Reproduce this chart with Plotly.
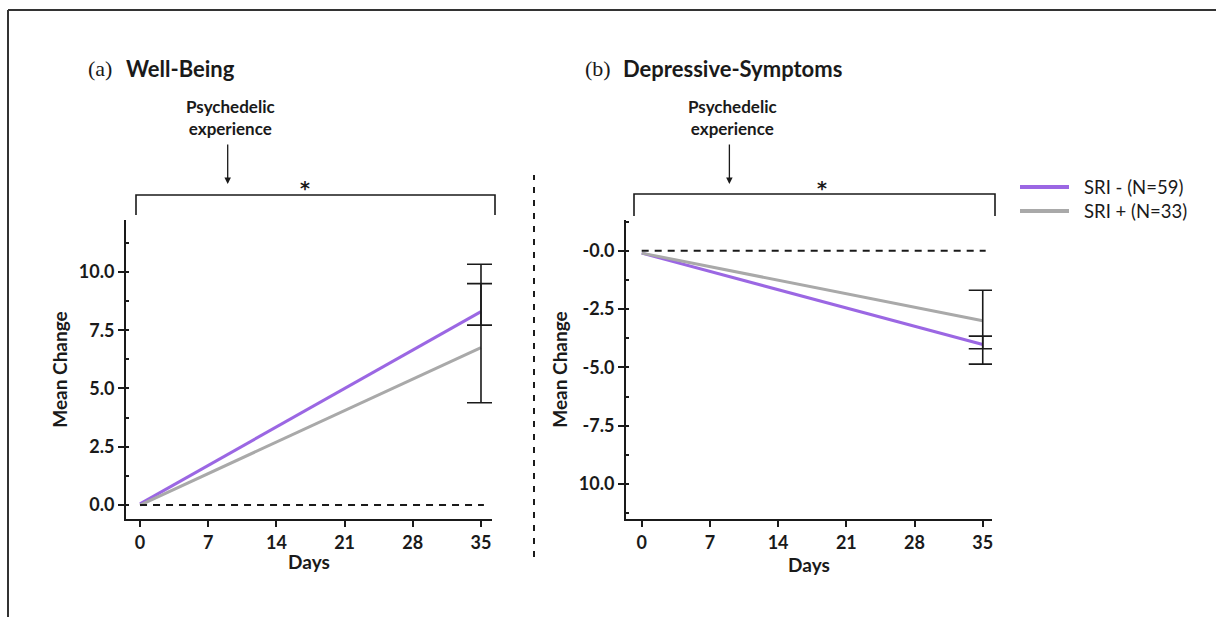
import plotly.graph_objects as go

W, H = 1216, 617

# ---------------- data ----------------
days = [0, 35]
legend_names = ["SRI - (N=59)", "SRI + (N=33)"]
colors = ["#9b67e3", "#a9a9a9"]

# (a) Well-Being
wb_means = {"neg": [0.05, 8.3], "pos": [0.0, 6.75]}
wb_err_plus = {"neg": 2.03, "pos": 2.75}
wb_err_minus = {"neg": 0.58, "pos": 2.36}

# (b) Depressive-Symptoms
ds_means = {"neg": [-0.1, -4.02], "pos": [-0.1, -3.0]}
ds_err_plus = {"neg": 0.36, "pos": 1.31}
ds_err_minus = {"neg": 0.84, "pos": 1.2}

x_ticks = [0, 7, 14, 21, 28, 35]
wb_yticks = [0, 2.5, 5, 7.5, 10]
wb_yticktext = ["0.0", "2.5", "5.0", "7.5", "10.0"]
ds_yticks = [0, -2.5, -5, -7.5, -10]
ds_yticktext = ["-0.0", "-2.5", "-5.0", "-7.5", "10.0"]

arrow_day = 9
ref_line_end = 35.3

FONT = "Lato"
INK = "#1a1a1a"


def px(p):
    return p / W


def py(p):
    return 1 - p / H


fig = go.Figure()

keys = ["neg", "pos"]
for i, k in enumerate(keys):
    fig.add_trace(go.Scatter(x=days, y=wb_means[k], mode="lines", name=legend_names[i],
                             line=dict(color=colors[i], width=3), xaxis="x", yaxis="y",
                             legendgroup=k, showlegend=False))
    fig.add_trace(go.Scatter(x=days, y=ds_means[k], mode="lines", name=legend_names[i],
                             line=dict(color=colors[i], width=3), xaxis="x2", yaxis="y2",
                             legendgroup=k, showlegend=False))

# error bars at day 35
for k in keys:
    fig.add_trace(go.Scatter(x=[days[-1]], y=[wb_means[k][-1]], mode="markers",
                             marker=dict(size=1, opacity=0), showlegend=False, hoverinfo="skip",
                             error_y=dict(type="data", symmetric=False, array=[wb_err_plus[k]],
                                          arrayminus=[wb_err_minus[k]], color=INK, thickness=1.6, width=14),
                             xaxis="x", yaxis="y"))
    fig.add_trace(go.Scatter(x=[days[-1]], y=[ds_means[k][-1]], mode="markers",
                             marker=dict(size=1, opacity=0), showlegend=False, hoverinfo="skip",
                             error_y=dict(type="data", symmetric=False, array=[ds_err_plus[k]],
                                          arrayminus=[ds_err_minus[k]], color=INK, thickness=1.6, width=14),
                             xaxis="x2", yaxis="y2"))

tickfont = dict(family=FONT, size=18, color=INK, weight="bold")
titlefont = dict(family=FONT, size=19, color=INK, weight="bold")

ydom = [py(519), py(220)]


def xaxis_cfg(dom, rng, anchor):
    return dict(domain=dom, range=rng, anchor=anchor, showline=True, linecolor=INK, linewidth=2,
                ticks="outside", ticklen=6, tickwidth=2, tickcolor=INK, tickvals=x_ticks,
                tickfont=tickfont, showgrid=False, zeroline=False,
                title=dict(text="Days", font=titlefont, standoff=4))


def yaxis_cfg(rng, anchor, tv, tt):
    return dict(domain=ydom, range=rng, anchor=anchor, showline=True, linecolor=INK, linewidth=2,
                ticks="outside", ticklen=6, tickwidth=2, tickcolor=INK, tickvals=tv, ticktext=tt,
                tickfont=tickfont, showgrid=False, zeroline=False,
                minor=dict(ticks="inside", ticklen=3, tickwidth=1.5, tickcolor=INK, dtick=1.25, tick0=0),
                title=dict(text="Mean Change", font=titlefont, standoff=6))


fig.update_layout(
    width=W, height=H, margin=dict(l=0, r=0, t=0, b=0),
    paper_bgcolor="white", plot_bgcolor="white",
    xaxis=xaxis_cfg([px(126), px(492)], [-1.44, 36.13], "y"),
    yaxis=yaxis_cfg([-0.6, 12.23], "x", wb_yticks, wb_yticktext),
    xaxis2=xaxis_cfg([px(626), px(992)], [-1.61, 35.95], "y2"),
    yaxis2=yaxis_cfg([-11.5, 1.32], "x2", ds_yticks, ds_yticktext),
    showlegend=False,
)

shapes = []
# outer frame (top and left)
shapes.append(dict(type="line", xref="paper", yref="paper", x0=px(8), x1=1, y0=py(10), y1=py(10),
                   line=dict(color="#333", width=2)))
shapes.append(dict(type="line", xref="paper", yref="paper", x0=px(8), x1=px(8), y0=0, y1=py(10),
                   line=dict(color="#333", width=2)))
# panel divider
shapes.append(dict(type="line", xref="paper", yref="paper", x0=px(534), x1=px(534), y0=py(557), y1=py(175),
                   line=dict(color=INK, width=2, dash="6px,7px")))
# zero reference lines
shapes.append(dict(type="line", xref="x", yref="y", x0=0, x1=ref_line_end, y0=0, y1=0,
                   line=dict(color=INK, width=2, dash="7px,6px")))
shapes.append(dict(type="line", xref="x2", yref="y2", x0=0, x1=ref_line_end, y0=0, y1=0,
                   line=dict(color=INK, width=2, dash="7px,6px")))
# significance brackets
for xl, xrt, ytop, ybot in [(136, 495, 195, 215), (634, 995, 194, 216)]:
    shapes.append(dict(type="path", xref="paper", yref="paper",
                       path=f"M {px(xl)},{py(ybot)} L {px(xl)},{py(ytop)} L {px(xrt)},{py(ytop)} L {px(xrt)},{py(ybot)}",
                       line=dict(color=INK, width=1.6)))
# legend samples
legend_rows = [187, 211]
for i, yy in enumerate(legend_rows):
    shapes.append(dict(type="line", xref="paper", yref="paper", x0=px(1020), x1=px(1069), y0=py(yy), y1=py(yy),
                       line=dict(color=colors[i], width=4)))
fig.update_layout(shapes=shapes)

ann = []
# legend labels
for i, yy in enumerate(legend_rows):
    ann.append(dict(xref="paper", yref="paper", x=px(1082), y=py(yy), xanchor="left", yanchor="middle",
                    text=legend_names[i], showarrow=False, font=dict(family=FONT, size=18.5, color=INK)))
# panel titles
for xs, lab, xt, title in [(86, "(a)", 124, "Well-Being"), (583, "(b)", 621, "Depressive-Symptoms")]:
    ann.append(dict(xref="paper", yref="paper", x=px(xs), y=py(68), xanchor="left", yanchor="middle",
                    text=lab, showarrow=False, font=dict(family="Liberation Serif", size=22, color=INK)))
    ann.append(dict(xref="paper", yref="paper", x=px(xt), y=py(68), xanchor="left", yanchor="middle",
                    text=title, showarrow=False, font=dict(family=FONT, size=22, color=INK, weight="bold")))
# psychedelic experience annotations
for xr in ["x", "x2"]:
    ann.append(dict(xref=xr, yref="paper", x=arrow_day + 0.3, y=py(117), xanchor="center", yanchor="middle",
                    text="Psychedelic<br>experience", showarrow=False,
                    font=dict(family=FONT, size=17, color=INK, weight="bold")))
    ann.append(dict(xref=xr, yref="paper", x=arrow_day, y=py(184), ax=0, ay=-41, axref="pixel", ayref="pixel",
                    text="", showarrow=True, arrowhead=2, arrowsize=1, arrowwidth=1.3, arrowcolor=INK))
# asterisks
for xr, xd in [("x", 16.9), ("x2", 18.5)]:
    ann.append(dict(xref=xr, yref="paper", x=xd, y=py(188), xanchor="center", yanchor="middle",
                    text="*", showarrow=False, font=dict(family="DejaVu Sans", size=19, color=INK, weight="bold")))
fig.update_layout(annotations=ann)

fig.write_html("out.html", config={"displayModeBar": False},
               post_script="document.body.style.margin='0px';document.body.style.overflow='hidden';")
